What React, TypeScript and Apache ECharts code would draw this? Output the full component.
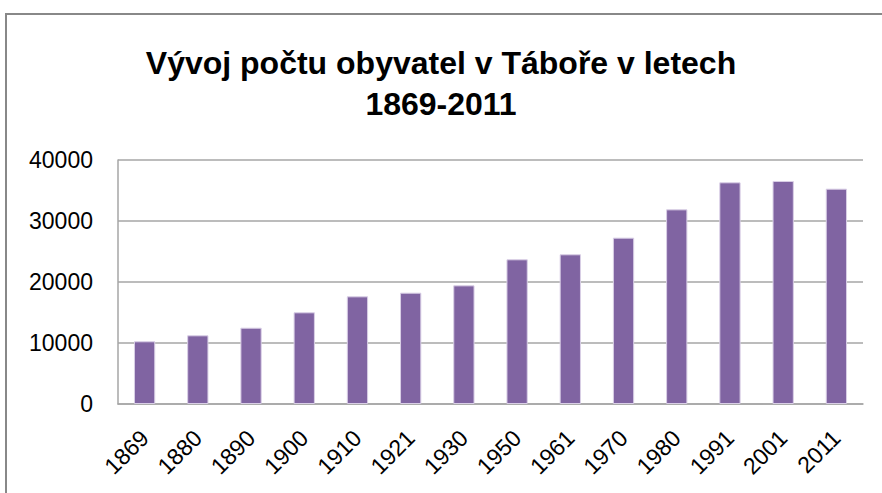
import React, { useEffect, useRef } from "react";
import * as echarts from "echarts";

const titleLines = ["Vývoj počtu obyvatel v Táboře v letech", "1869-2011"];
const years = ["1869", "1880", "1890", "1900", "1910", "1921", "1930", "1950", "1961", "1970", "1980", "1991", "2001", "2011"];
const population = [10280, 11260, 12510, 15030, 17650, 18250, 19450, 23720, 24540, 27270, 31910, 36340, 36560, 35300];
const yMin = 0;
const yMax = 40000;
const yInterval = 10000;

export default function App() {
  const ref = useRef<HTMLDivElement>(null);
  useEffect(() => {
    document.body.style.margin = "0";
    const chart = echarts.init(ref.current!, undefined, { renderer: "svg" });
    chart.setOption({
      animation: false,
      backgroundColor: "#ffffff",
      title: {
        text: titleLines.join("\n"),
        left: "center",
        top: 37,
        textStyle: {
          fontFamily: "Liberation Sans",
          fontWeight: "bold",
          fontSize: 32,
          lineHeight: 41,
          color: "#000000",
        },
      },
      graphic: [
        {
          type: "rect",
          shape: { x: 6, y: 14, width: 900, height: 520 },
          style: { fill: "none", stroke: "#888888", lineWidth: 2 },
          silent: true,
        },
      ],
      grid: { left: 118, right: 19, top: 160, bottom: 89, containLabel: false },
      xAxis: {
        type: "category",
        data: years,
        axisLine: { show: true, lineStyle: { color: "#a6a6a6", width: 1.5 } },
        axisTick: { show: false },
        axisLabel: {
          rotate: 45,
          margin: 30,
          fontFamily: "Liberation Sans",
          fontSize: 23,
          color: "#000000",
        },
      },
      yAxis: {
        type: "value",
        min: yMin,
        max: yMax,
        interval: yInterval,
        axisLine: { show: true, lineStyle: { color: "#a6a6a6", width: 1.5 } },
        axisTick: { show: false },
        splitLine: { show: true, lineStyle: { color: "#a6a6a6", width: 1.5 } },
        axisLabel: {
          margin: 25,
          fontFamily: "Liberation Sans",
          fontSize: 23,
          color: "#000000",
          formatter: (v: number) => String(v),
        },
      },
      series: [
        {
          type: "bar",
          data: population,
          barWidth: "40%",
          itemStyle: { color: "#8064a2", borderColor: "#d9cfe6", borderWidth: 1 },
        },
      ],
    });
    return () => chart.dispose();
  }, []);
  return <div ref={ref} style={{ width: 882, height: 493 }} />;
}
